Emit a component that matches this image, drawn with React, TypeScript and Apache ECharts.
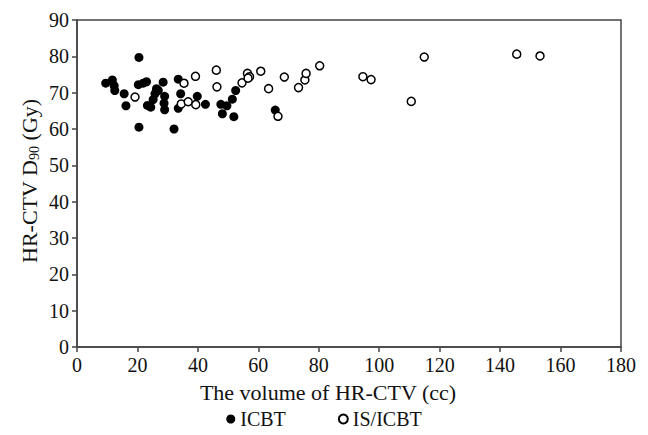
import React, { useEffect, useRef } from "react";
import * as echarts from "echarts";

const xTicks = [0, 20, 40, 60, 80, 100, 120, 140, 160, 180];
const yTicks = [0, 10, 20, 30, 40, 50, 60, 70, 80, 90];

// ICBT: [volume (cc), D90 (Gy)]
const icbt: number[][] = [
  [9.5, 72.6], [11.7, 73.5], [12.3, 71.9], [12.5, 70.6], [15.6, 69.7],
  [16.2, 66.4], [20.5, 79.7], [20.3, 72.2], [21.9, 72.6], [23.0, 73.0],
  [20.5, 60.5], [23.3, 66.5], [24.4, 66.0], [25.2, 68.1], [25.8, 69.7],
  [26.3, 71.1], [26.9, 70.6], [28.5, 72.9], [29.0, 69.0], [28.8, 67.1],
  [29.0, 65.3], [32.1, 60.0], [33.5, 73.7], [34.3, 69.7], [33.5, 65.7],
  [39.8, 69.0], [42.5, 66.8], [47.6, 66.8], [49.6, 66.4], [48.1, 64.2],
  [51.9, 63.4], [51.4, 68.2], [52.5, 70.6], [65.6, 65.2],
];

// IS/ICBT: [volume (cc), D90 (Gy)]
const isIcbt: number[][] = [
  [19.2, 68.8], [35.4, 72.6], [39.2, 74.5], [34.5, 66.9], [36.8, 67.5],
  [39.3, 66.7], [46.1, 76.2], [46.3, 71.6], [54.6, 72.7], [56.4, 75.3],
  [57.1, 74.4], [56.6, 74.0], [60.8, 75.9], [63.4, 71.1], [68.6, 74.3],
  [73.3, 71.4], [75.4, 73.5], [75.8, 75.3], [80.3, 77.4], [66.5, 63.5],
  [94.6, 74.4], [97.3, 73.6], [110.6, 67.6], [114.9, 79.8], [145.5, 80.6],
  [153.2, 80.1],
];

const xTitle = "The volume of HR-CTV (cc)";
const FONT = "Liberation Serif";
const AX = "#444";

export default function App() {
  const ref = useRef<HTMLDivElement>(null);
  useEffect(() => {
    document.body.style.margin = "0";
    if (!ref.current) return;
    const chart = echarts.init(ref.current, null, { renderer: "svg" });
    chart.setOption({
      animation: false,
      backgroundColor: "#fff",
      textStyle: { fontFamily: FONT },
      grid: {
        left: 77, right: 27, top: 20, bottom: 88,
        show: true, borderColor: AX, borderWidth: 1.5, backgroundColor: "transparent",
      },
      xAxis: {
        type: "value",
        min: xTicks[0], max: xTicks[xTicks.length - 1], interval: 20,
        axisLine: { show: true, onZero: false, lineStyle: { color: AX, width: 1.5 } },
        axisTick: { show: true, length: 5, lineStyle: { color: AX, width: 1.5 } },
        splitLine: { show: false },
        axisLabel: { color: "#111", fontSize: 20, fontFamily: FONT, margin: 8 },
      },
      yAxis: {
        type: "value",
        min: yTicks[0], max: yTicks[yTicks.length - 1], interval: 10,
        axisLine: { show: true, lineStyle: { color: AX, width: 1.5 } },
        axisTick: { show: true, length: 5, lineStyle: { color: AX, width: 1.5 } },
        splitLine: { show: false },
        axisLabel: { color: "#111", fontSize: 20, fontFamily: FONT, margin: 8 },
      },
      graphic: [
        {
          type: "text",
          x: 29, y: 181, rotation: Math.PI / 2,
          style: {
            text: "HR-CTV D{s|90} (Gy)",
            fontSize: 22, fontFamily: FONT, fill: "#111",
            align: "center", verticalAlign: "middle",
            rich: { s: { fontSize: 14, fontFamily: FONT, fill: "#111", padding: [10, 0, 0, 0] } },
          },
        },
        {
          type: "text",
          x: 328, y: 392,
          style: {
            text: xTitle,
            fontSize: 22, fontFamily: FONT, fill: "#111",
            align: "center", verticalAlign: "middle",
          },
        },
      ],
      legend: {
        top: 409, left: "center", padding: 0, itemGap: 52, itemWidth: 9, itemHeight: 9,
        textStyle: { color: "#111", fontSize: 20, fontFamily: FONT },
        data: [
          { name: "ICBT", icon: "circle" },
          { name: "IS/ICBT", icon: "circle" },
        ],
      },
      series: [
        {
          name: "ICBT", type: "scatter", data: icbt, symbol: "circle", symbolSize: 9,
          itemStyle: { color: "#000", borderColor: "#000", borderWidth: 0, opacity: 1 },
        },
        {
          name: "IS/ICBT", type: "scatter", data: isIcbt, symbol: "circle", symbolSize: 8,
          itemStyle: { color: "#fff", borderColor: "#000", borderWidth: 1.5, opacity: 1 },
        },
      ],
    });
    return () => chart.dispose();
  }, []);
  return <div ref={ref} style={{ width: 648, height: 435 }} />;
}
